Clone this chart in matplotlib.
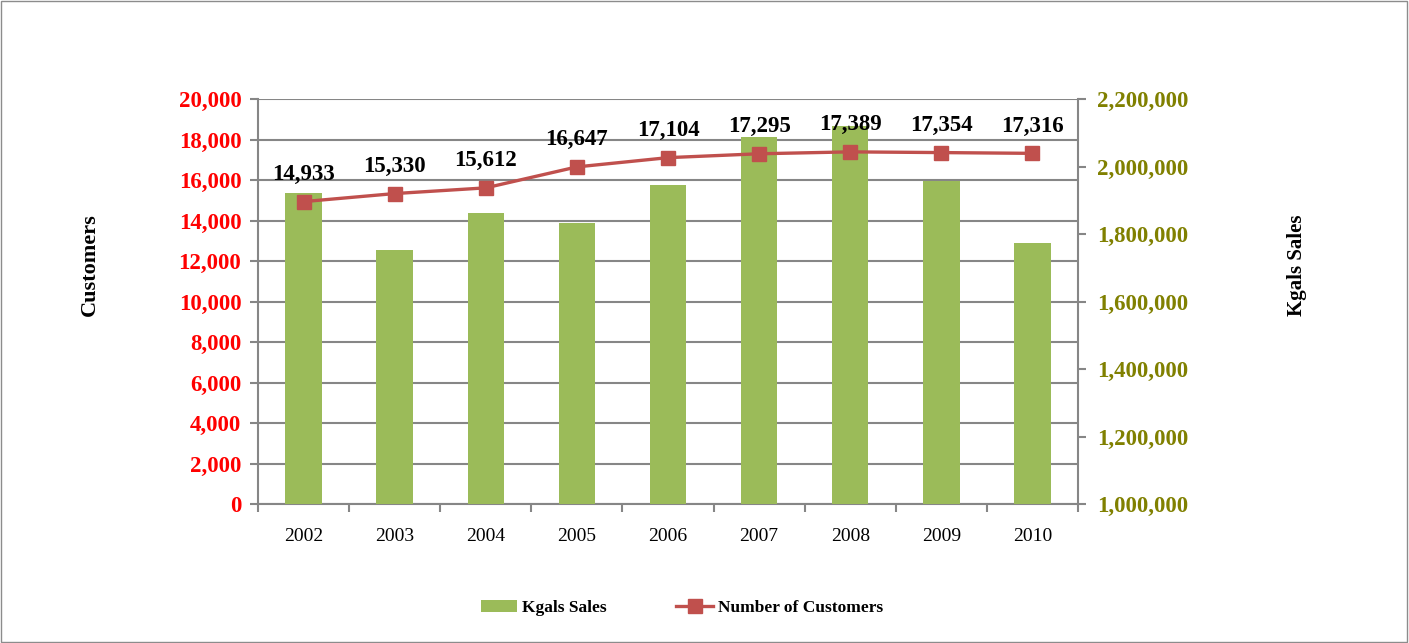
import matplotlib.pyplot as plt
from matplotlib.ticker import FuncFormatter, MultipleLocator, FixedLocator
from matplotlib.patches import Rectangle

years = ['2002', '2003', '2004', '2005', '2006', '2007', '2008', '2009', '2010']
customers = [14933, 15330, 15612, 16647, 17104, 17295, 17389, 17354, 17316]
kgals = [1922000, 1753000, 1862000, 1833000, 1945000, 2087000, 2120000, 1957000, 1773000]

serif = 'Liberation Serif'
grid_col = '#868686'
bar_col = '#9BBB59'
line_col = '#C0504D'
olive = '#808000'

fig = plt.figure(figsize=(14.09, 6.43), dpi=100)
pos = [258/1409, 139/643, 820/1409, 405/643]

# left axis: customers scale + grid
ax1 = fig.add_axes(pos)
ax1.set_xlim(-0.5, len(years) - 0.5)
ax1.set_ylim(0, 20000)
ax1.yaxis.set_major_locator(MultipleLocator(2000))
ax1.yaxis.set_major_formatter(FuncFormatter(lambda v, p: f'{int(v):,}'))
ax1.grid(axis='y', color=grid_col, linewidth=1.5)
ax1.set_axisbelow(True)
for s in ['top', 'right']:
    ax1.spines[s].set_visible(False)
for s in ['left', 'bottom']:
    ax1.spines[s].set_color(grid_col)
    ax1.spines[s].set_linewidth(1.5)
ax1.tick_params(axis='y', colors='red', labelsize=16.5, length=6, width=1.5,
                color=grid_col, pad=6)
for t in ax1.get_yticklabels():
    t.set_fontfamily(serif)
    t.set_fontweight('bold')
ax1.set_xticks(range(len(years)))
ax1.set_xticklabels(years, fontfamily=serif, fontsize=14)
ax1.tick_params(axis='x', length=0, pad=17)
ax1.xaxis.set_minor_locator(FixedLocator([i - 0.5 for i in range(len(years) + 1)]))
ax1.tick_params(axis='x', which='minor', length=6, width=1.5, color=grid_col)

# right axis: Kgals bars
ax2 = ax1.twinx()
ax2.bar(range(len(years)), kgals, width=0.4, color=bar_col, label='Kgals Sales', zorder=2)
ax2.set_ylim(1000000, 2200000)
ax2.yaxis.set_major_locator(MultipleLocator(200000))
ax2.yaxis.set_major_formatter(FuncFormatter(lambda v, p: f'{int(v):,}'))
ax2.tick_params(axis='y', colors=olive, labelsize=16.5, length=6, width=1.5,
                color=grid_col, pad=8)
for t in ax2.get_yticklabels():
    t.set_fontfamily(serif)
    t.set_fontweight('bold')
for s in ['top', 'left', 'bottom']:
    ax2.spines[s].set_visible(False)
ax2.spines['right'].set_color(grid_col)
ax2.spines['right'].set_linewidth(1.5)

# axis titles
fig.text(90/1409, 1 - 265/643, 'Customers', rotation=90, ha='center', va='center',
         fontfamily=serif, fontsize=16, fontweight='bold')
fig.text(1297/1409, 1 - 265/643, 'Kgals Sales', rotation=90, ha='center', va='center',
         fontfamily=serif, fontsize=15, fontweight='bold')

# customers line on top of the bars
ax3 = fig.add_axes(pos, sharex=ax1, sharey=ax1)
ax3.axis('off')
ax3.patch.set_visible(False)
ln, = ax3.plot(range(len(years)), customers, color=line_col, linewidth=2.4,
               marker='s', markersize=10, label='Number of Customers')
for i, v in enumerate(customers):
    ax3.annotate(f'{v:,}', (i, v), xytext=(0, 12), textcoords='offset points',
                 ha='center', va='bottom', fontfamily=serif, fontsize=16.5,
                 fontweight='bold', color='black')

bars = ax2.containers[0]
fig.legend([bars, ln], ['Kgals Sales', 'Number of Customers'], loc='center',
           bbox_to_anchor=(0.484, 0.055), ncol=2, frameon=False,
           prop={'family': serif, 'weight': 'bold', 'size': 12.5},
           handlelength=2.1, handletextpad=0.3, columnspacing=4.0)

fig.add_artist(Rectangle((0.0005, 0.001), 0.998, 0.997, transform=fig.transFigure,
                         fill=False, edgecolor='#8C8C8C', linewidth=1))

fig.savefig('out.png', dpi=100)
